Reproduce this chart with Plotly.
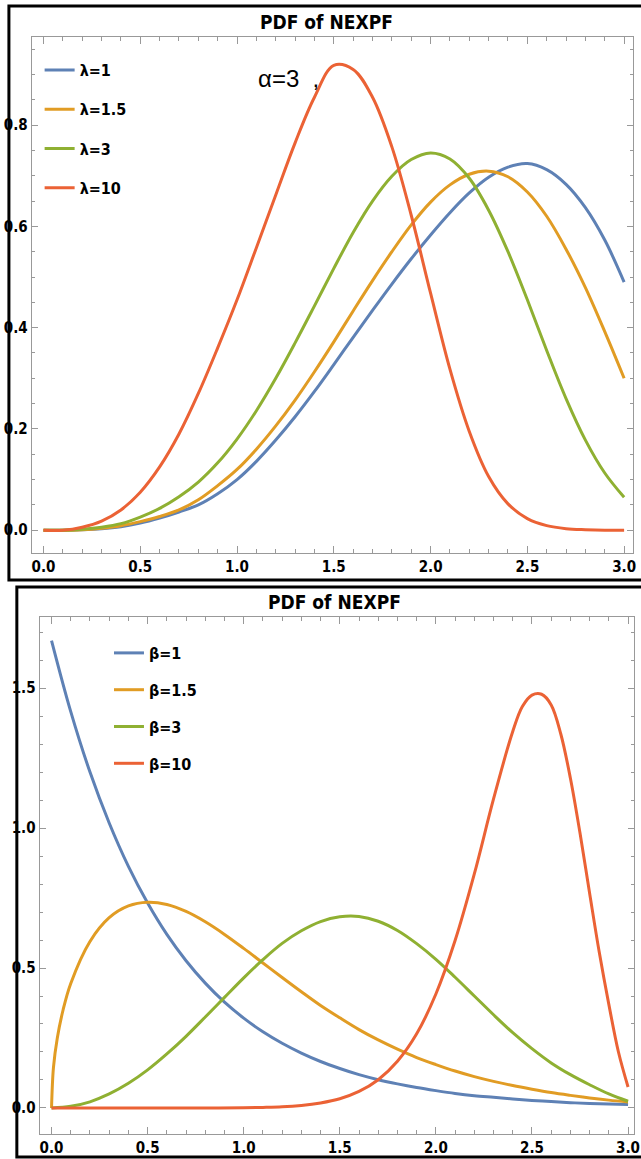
import plotly.graph_objects as go

# ---------------- data ----------------
x_top = [0.0, 0.1, 0.2, 0.3, 0.4, 0.5, 0.6, 0.7, 0.8, 0.9, 1.0, 1.1, 1.2, 1.3, 1.4, 1.5,
         1.6, 1.7, 1.8, 1.9, 2.0, 2.1, 2.2, 2.3, 2.4, 2.5, 2.6, 2.7, 2.8, 2.9, 3.0]
top_labels = ["λ=1", "λ=1.5", "λ=3", "λ=10"]
top_lam1 = [0, 0, 0.001, 0.003, 0.007, 0.014, 0.024, 0.036, 0.05, 0.072, 0.1, 0.136, 0.178, 0.224,
            0.274, 0.327, 0.381, 0.434, 0.486, 0.536, 0.583, 0.627, 0.666, 0.697, 0.717, 0.724,
            0.712, 0.683, 0.637, 0.573, 0.49]
top_lam15 = [0, 0, 0.001, 0.004, 0.009, 0.017, 0.027, 0.04, 0.06, 0.088, 0.12, 0.16, 0.206, 0.257,
             0.313, 0.372, 0.433, 0.493, 0.55, 0.603, 0.648, 0.682, 0.703, 0.709, 0.698, 0.668,
             0.62, 0.555, 0.479, 0.392, 0.3]
top_lam3 = [0, 0, 0.002, 0.006, 0.013, 0.026, 0.043, 0.066, 0.095, 0.133, 0.18, 0.236, 0.3, 0.37,
            0.443, 0.517, 0.588, 0.65, 0.699, 0.732, 0.745, 0.733, 0.695, 0.632, 0.55, 0.455,
            0.355, 0.26, 0.178, 0.113, 0.065]
top_lam10 = [0, 0, 0.006, 0.018, 0.04, 0.075, 0.125, 0.19, 0.27, 0.36, 0.455, 0.558, 0.662, 0.765,
             0.855, 0.918, 0.91, 0.855, 0.757, 0.622, 0.468, 0.318, 0.195, 0.106, 0.052, 0.023,
             0.009, 0.003, 0.001, 0, 0]

x_bot = x_top
x_bot_orange = [0.0, 0.01, 0.03, 0.06, 0.1, 0.2, 0.3, 0.4, 0.5, 0.6, 0.7, 0.8, 0.9, 1.0, 1.1, 1.2,
                1.3, 1.4, 1.5, 1.6, 1.7, 1.8, 1.9, 2.0, 2.1, 2.2, 2.3, 2.4, 2.5, 2.6, 2.7, 2.8,
                2.9, 3.0]
x_bot_red = [0.0, 0.2, 0.4, 0.6, 0.8, 1.0, 1.1, 1.2, 1.3, 1.4, 1.5, 1.6, 1.7, 1.8, 1.9, 2.0,
             2.1, 2.2, 2.3, 2.4, 2.45, 2.5, 2.55, 2.6, 2.65, 2.7, 2.75, 2.8, 2.85, 2.9, 2.95, 3.0]
bot_labels = ["β=1", "β=1.5", "β=3", "β=10"]
bot_b1 = [1.67, 1.416, 1.2, 1.018, 0.863, 0.732, 0.62, 0.526, 0.446, 0.378, 0.321, 0.272, 0.231,
          0.196, 0.166, 0.141, 0.119, 0.101, 0.086, 0.073, 0.062, 0.052, 0.044, 0.038, 0.032,
          0.027, 0.023, 0.019, 0.016, 0.014, 0.012]
bot_b15 = [0, 0.145, 0.25, 0.35, 0.445, 0.595, 0.68, 0.722, 0.735, 0.727, 0.702, 0.665, 0.62,
           0.57, 0.518, 0.466, 0.415, 0.366, 0.322, 0.28, 0.243, 0.21, 0.18, 0.155, 0.132, 0.112,
           0.095, 0.08, 0.067, 0.055, 0.045, 0.036, 0.028, 0.021]
bot_b3 = [0, 0.006, 0.022, 0.05, 0.088, 0.136, 0.193, 0.256, 0.325, 0.395, 0.465, 0.53, 0.588,
          0.633, 0.666, 0.683, 0.684, 0.667, 0.634, 0.587, 0.531, 0.467, 0.4, 0.333, 0.269,
          0.212, 0.161, 0.119, 0.083, 0.05, 0.024]
bot_b10 = [0, 0, 0, 0, 0, 0.001, 0.002, 0.004, 0.009, 0.018, 0.033, 0.059, 0.101, 0.167, 0.265,
           0.407, 0.598, 0.836, 1.104, 1.345, 1.434, 1.475, 1.478, 1.44, 1.336, 1.178, 0.982,
           0.767, 0.557, 0.37, 0.2, 0.075]

colors = ["#5E81B5", "#E19C24", "#8FB032", "#EB6235"]

# ---------------- figure ----------------
W, H = 641, 1159
FONT = "Liberation Sans Narrow, Arial Narrow, DejaVu Sans Condensed, sans-serif"

fig = go.Figure()
top_series = [top_lam1, top_lam15, top_lam3, top_lam10]
for i, (lab, ys) in enumerate(zip(top_labels, top_series)):
    fig.add_trace(go.Scatter(x=x_top, y=ys, mode="lines", name=lab,
                             line=dict(color=colors[i], width=3, shape="spline", smoothing=1.0),
                             xaxis="x", yaxis="y", legend="legend", legendgroup="t%d" % i))
bot_series = [(x_bot, bot_b1), (x_bot_orange, bot_b15), (x_bot, bot_b3), (x_bot_red, bot_b10)]
for i, (lab, (xs, ys)) in enumerate(zip(bot_labels, bot_series)):
    fig.add_trace(go.Scatter(x=xs, y=ys, mode="lines", name=lab,
                             line=dict(color=colors[i], width=3, shape="spline", smoothing=1.0),
                             xaxis="x2", yaxis="y2", legend="legend2", legendgroup="b%d" % i))


def px_x(p):
    return p / W


def px_y(p):
    return 1 - p / H


axis_common = dict(showline=True, linecolor="#999999", linewidth=1, mirror="ticks",
                   ticks="inside", tickcolor="#999999", tickwidth=1, showgrid=False,
                   zeroline=False, tickformat=".1f", ticklabeloverflow="allow",
                   tickfont=dict(family=FONT, size=15, color="black", weight="bold"))

fig.update_layout(
    width=W, height=H, margin=dict(l=0, r=0, t=0, b=0),
    paper_bgcolor="white", plot_bgcolor="white",
    xaxis=dict(domain=[px_x(32), px_x(639)], range=[-0.061, 3.046], anchor="y",
               tick0=0, dtick=0.5, ticklen=7,
               minor=dict(dtick=0.1, tick0=0, ticks="inside", ticklen=4, tickcolor="#999999"),
               **axis_common),
    yaxis=dict(domain=[px_y(553), px_y(37)], range=[-0.045, 0.974], anchor="x",
               tick0=0, dtick=0.2, ticklen=6,
               minor=dict(dtick=0.05, tick0=0, ticks="inside", ticklen=3, tickcolor="#999999"),
               **axis_common),
    xaxis2=dict(domain=[px_x(40), px_x(640)], range=[-0.062, 3.031], anchor="y2",
                tick0=0, dtick=0.5, ticklen=7,
                minor=dict(dtick=0.1, tick0=0, ticks="inside", ticklen=4, tickcolor="#999999"),
                **axis_common),
    yaxis2=dict(domain=[px_y(1134), px_y(617)], range=[-0.093, 1.754], anchor="x2",
                tick0=0, dtick=0.5, ticklen=6,
                minor=dict(dtick=0.1, tick0=0, ticks="inside", ticklen=3, tickcolor="#999999"),
                **axis_common),
    legend=dict(x=px_x(40), y=px_y(53), xanchor="left", yanchor="top",
                bgcolor="rgba(0,0,0,0)", traceorder="grouped", tracegroupgap=15.5,
                font=dict(family=FONT, size=16, color="black", weight="bold")),
    legend2=dict(x=px_x(110), y=px_y(636), xanchor="left", yanchor="top",
                 bgcolor="rgba(0,0,0,0)", traceorder="grouped", tracegroupgap=13,
                 font=dict(family=FONT, size=16, color="black", weight="bold")),
    showlegend=True,
)

# panel frames
fig.add_shape(type="rect", xref="paper", yref="paper", x0=px_x(9), x1=1.02,
              y0=px_y(580), y1=px_y(6), line=dict(color="black", width=3))
fig.add_shape(type="rect", xref="paper", yref="paper", x0=px_x(17), x1=1.02,
              y0=px_y(1157), y1=px_y(587), line=dict(color="black", width=3))

# titles and annotation
title_font = dict(family=FONT, size=19, color="black", weight="bold")
fig.add_annotation(text="PDF of NEXPF", xref="paper", yref="paper", x=px_x(330), y=px_y(22),
                   xanchor="center", yanchor="middle", showarrow=False, font=title_font)
fig.add_annotation(text="PDF of NEXPF", xref="paper", yref="paper", x=px_x(338), y=px_y(602),
                   xanchor="center", yanchor="middle", showarrow=False, font=title_font)
fig.add_annotation(text="α=3\u00a0\u00a0,", xref="paper", yref="paper", x=px_x(258), y=px_y(78),
                   xanchor="left", yanchor="middle", showarrow=False,
                   font=dict(family="Liberation Sans, Arial, sans-serif", size=24, color="black"))

fig.write_html("out.html", config={"displayModeBar": False},
               post_script="document.body.style.margin='0';document.body.style.overflow='hidden';")
